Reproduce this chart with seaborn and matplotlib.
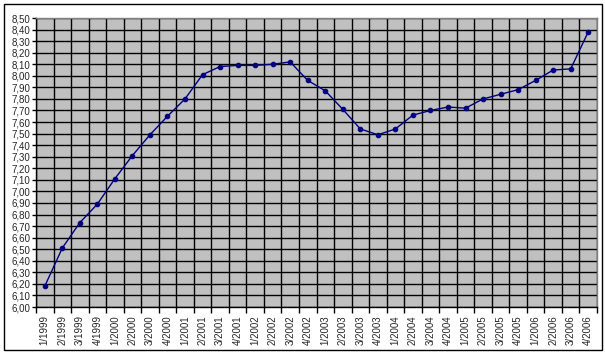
import pandas as pd
import matplotlib
matplotlib.use("Agg")
import matplotlib.pyplot as plt
import seaborn as sns
from matplotlib.ticker import FuncFormatter, MultipleLocator
from matplotlib.patches import Rectangle

# Quarterly values
quarters = [f"{q}/{y}" for y in range(1999, 2007) for q in range(1, 5)]
values = [6.18, 6.51, 6.73, 6.89, 7.11, 7.31, 7.49, 7.65,
          7.80, 8.01, 8.08, 8.09, 8.09, 8.10, 8.12, 7.96,
          7.87, 7.71, 7.54, 7.49, 7.54, 7.66, 7.70, 7.73,
          7.72, 7.80, 7.84, 7.88, 7.96, 8.05, 8.06, 8.38]

df = pd.DataFrame({"pos": range(len(quarters)), "value": values})

sns.set_style("white")
plt.rcParams["font.family"] = ["Liberation Sans", "DejaVu Sans"]

fig = plt.figure(figsize=(6.05, 3.53), dpi=100)
ax = fig.add_axes([36 / 605, 1 - 307 / 353, 561 / 605, 289 / 353])
ax.set_facecolor("#C0C0C0")

sns.lineplot(data=df, x="pos", y="value", ax=ax, color="#000080", linewidth=1,
             marker="o", markersize=3.3, markeredgecolor="#000080")

ax.set_xlim(-0.5, len(quarters) - 0.5)
ax.set_ylim(6.0, 8.5)
ax.set_xlabel("")
ax.set_ylabel("")

# y axis
ax.yaxis.set_major_locator(MultipleLocator(0.1))
ax.yaxis.set_major_formatter(FuncFormatter(lambda v, p: f"{v:.2f}".replace(".", ",")))
ax.tick_params(axis="y", which="major", length=3, width=1, color="black",
               labelsize=7, pad=1, left=True)

# x axis: labels at category centres, ticks/grid at boundaries
ax.set_xticks(range(len(quarters)))
ax.set_xticklabels(quarters, rotation=90)
ax.set_xticks([i - 0.5 for i in range(len(quarters) + 1)], minor=True)
ax.tick_params(axis="x", which="major", length=0, labelsize=7, pad=6)
ax.tick_params(axis="x", which="minor", length=4, width=1, color="black", bottom=True)

ax.grid(True, which="major", axis="y", color="black", linewidth=1)
ax.grid(True, which="minor", axis="x", color="black", linewidth=1)
ax.grid(False, which="major", axis="x")
ax.set_axisbelow(True)

for side in ["left", "bottom"]:
    ax.spines[side].set_color("black")
    ax.spines[side].set_linewidth(1)
for side in ["top", "right"]:
    ax.spines[side].set_color("#808080")
    ax.spines[side].set_linewidth(1)

# outer chart border
fig.patches.append(Rectangle((3.5 / 605, 3.5 / 353), 598 / 605, 346 / 353,
                             transform=fig.transFigure, fill=False,
                             edgecolor="black", linewidth=1))

fig.savefig("out.png", dpi=100)
